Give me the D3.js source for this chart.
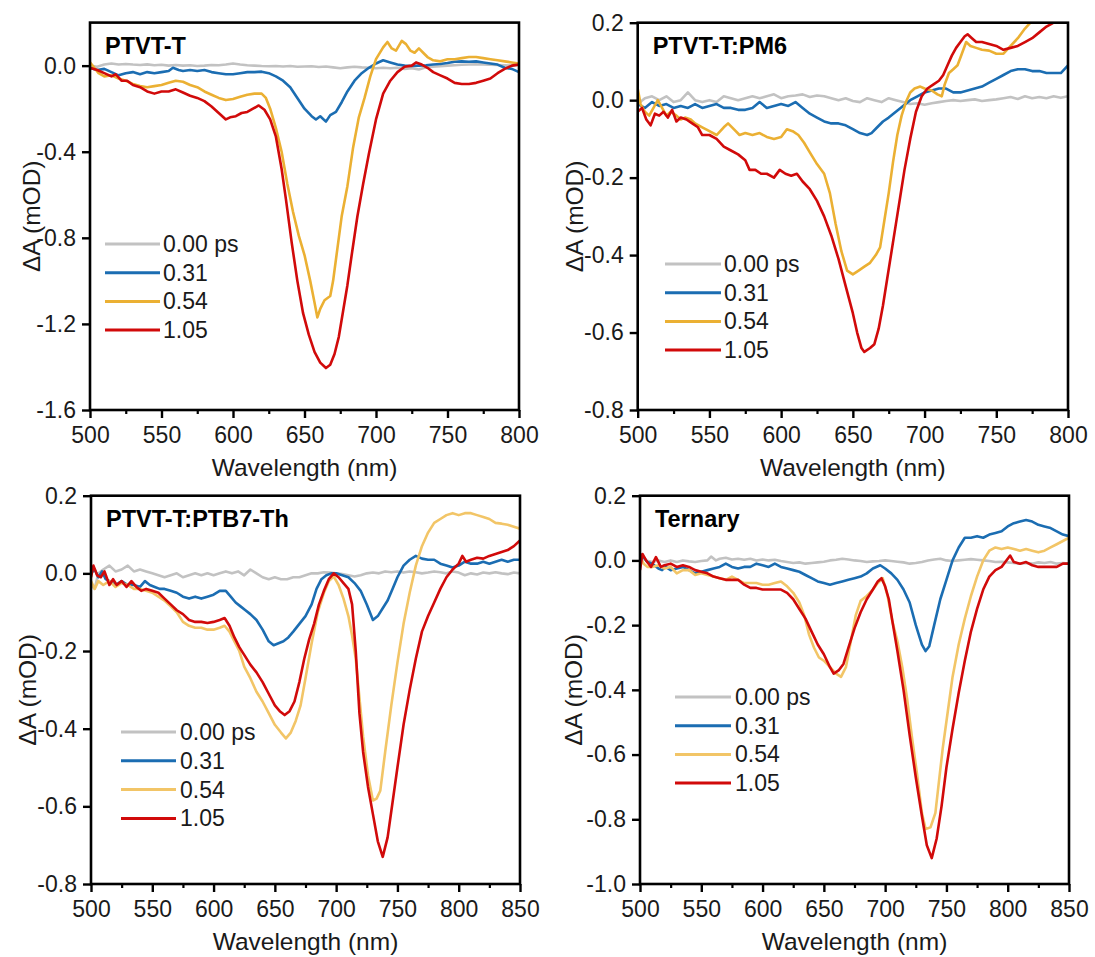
<!DOCTYPE html>
<html>
<head>
<meta charset="utf-8">
<script src="https://cdn.jsdelivr.net/npm/d3@7"></script>
<style>
  body { margin: 0; background: #fff; }
  svg { display: block; font-family: Arial, "Liberation Sans", sans-serif; }
</style>
</head>
<body>
<div id="chart"></div>
<script>
// delay times shown in every legend
const legendLabels = ['0.00 ps', '0.31', '0.54', '1.05'];

// --- PTVT-T ---
const p1_000 = [[500,0.0],[505,-0.005],[510,0.005],[515,0.01],[520,0.005],[525,0.008],[530,0.005],[535,0.003],[540,0.006],[545,0.002],[550,0.004],[555,0.0],[560,0.003],[565,0.0],[570,0.002],[575,-0.002],[580,0.0],[585,0.003],[590,0.002],[595,0.005],[600,0.01],[605,0.005],[610,0.002],[615,0.0],[620,-0.002],[625,-0.003],[630,-0.002],[635,-0.004],[640,-0.002],[645,-0.005],[650,-0.004],[655,-0.003],[660,-0.006],[665,-0.004],[670,-0.008],[675,-0.012],[680,-0.008],[685,-0.005],[690,-0.008],[695,-0.01],[700,-0.012],[705,-0.01],[710,-0.012],[715,-0.01],[720,-0.015],[725,-0.012],[730,-0.018],[735,-0.008],[740,-0.005],[745,-0.003],[750,0.0],[755,0.002],[760,0.004],[765,0.005],[770,0.006],[775,0.005],[780,0.004],[785,0.003],[790,0.002],[795,0.0],[800,0.005]];
const p1_031 = [[500,-0.01],[505,-0.02],[510,-0.015],[515,-0.03],[520,-0.045],[525,-0.035],[530,-0.03],[535,-0.04],[540,-0.03],[545,-0.035],[550,-0.03],[555,-0.025],[558,-0.01],[562,-0.02],[565,-0.025],[570,-0.02],[575,-0.025],[580,-0.02],[585,-0.03],[590,-0.035],[595,-0.04],[600,-0.04],[605,-0.035],[610,-0.03],[615,-0.03],[620,-0.028],[625,-0.035],[630,-0.05],[635,-0.07],[640,-0.10],[645,-0.15],[650,-0.2],[655,-0.235],[658,-0.25],[661,-0.235],[665,-0.26],[668,-0.23],[672,-0.215],[676,-0.17],[680,-0.12],[685,-0.07],[690,-0.035],[695,-0.01],[700,0.01],[705,0.025],[710,0.015],[715,0.005],[720,0.0],[725,-0.002],[730,0.0],[735,0.002],[740,0.005],[745,0.008],[750,0.012],[755,0.018],[760,0.02],[765,0.018],[770,0.02],[775,0.015],[780,0.01],[785,0.005],[790,-0.01],[795,-0.015],[800,-0.03]];
const p1_054 = [[500,0.015],[503,-0.01],[506,-0.035],[510,-0.05],[515,-0.045],[520,-0.06],[525,-0.07],[530,-0.085],[535,-0.095],[540,-0.1],[545,-0.095],[550,-0.09],[555,-0.08],[560,-0.07],[565,-0.075],[570,-0.09],[575,-0.1],[580,-0.12],[585,-0.135],[590,-0.15],[595,-0.16],[600,-0.155],[605,-0.145],[610,-0.135],[615,-0.13],[620,-0.13],[623,-0.15],[626,-0.2],[630,-0.29],[634,-0.4],[638,-0.55],[642,-0.68],[646,-0.79],[650,-0.88],[654,-1.0],[657,-1.1],[659,-1.17],[661,-1.13],[664,-1.09],[668,-1.07],[670,-1.0],[673,-0.85],[676,-0.7],[680,-0.56],[684,-0.38],[688,-0.24],[692,-0.15],[696,-0.05],[700,0.03],[705,0.085],[708,0.11],[711,0.08],[714,0.07],[718,0.115],[721,0.1],[724,0.07],[727,0.06],[730,0.08],[733,0.06],[736,0.04],[740,0.025],[745,0.02],[750,0.03],[755,0.03],[760,0.035],[765,0.04],[770,0.04],[775,0.035],[780,0.03],[785,0.025],[790,0.02],[795,0.015],[800,0.01]];
const p1_105 = [[500,-0.01],[505,-0.02],[510,-0.035],[515,-0.05],[518,-0.04],[522,-0.07],[526,-0.07],[530,-0.09],[535,-0.1],[540,-0.12],[545,-0.13],[550,-0.12],[555,-0.12],[560,-0.11],[565,-0.125],[570,-0.14],[575,-0.15],[580,-0.165],[585,-0.19],[590,-0.22],[595,-0.25],[598,-0.24],[602,-0.235],[606,-0.22],[610,-0.215],[614,-0.2],[618,-0.185],[622,-0.205],[626,-0.25],[630,-0.33],[634,-0.48],[637,-0.62],[641,-0.82],[645,-1.0],[649,-1.15],[653,-1.25],[657,-1.33],[661,-1.38],[665,-1.405],[668,-1.39],[671,-1.34],[674,-1.26],[677,-1.14],[680,-1.02],[683,-0.88],[687,-0.7],[691,-0.55],[695,-0.41],[700,-0.25],[705,-0.13],[710,-0.07],[715,-0.03],[720,-0.005],[725,0.0],[728,0.015],[732,0.005],[736,-0.01],[740,-0.03],[745,-0.045],[750,-0.06],[755,-0.08],[760,-0.085],[765,-0.085],[770,-0.08],[775,-0.07],[780,-0.06],[785,-0.035],[790,-0.015],[795,0.0],[800,0.005]];

// --- PTVT-T:PM6 ---
const p2_000 = [[500,-0.01],[505,0.005],[510,0.01],[515,0.0],[520,0.01],[525,-0.005],[530,0.0],[535,0.02],[540,0.0],[545,-0.005],[550,0.0],[555,-0.005],[560,0.01],[565,0.005],[570,0.0],[575,0.005],[580,0.01],[585,0.005],[590,0.01],[595,0.015],[600,0.005],[605,0.01],[610,0.012],[615,0.015],[620,0.008],[625,0.012],[630,0.01],[635,0.005],[640,0.0],[645,0.005],[650,-0.002],[655,-0.005],[660,0.005],[665,0.0],[670,-0.005],[675,0.005],[680,0.0],[685,-0.005],[690,-0.01],[695,-0.008],[700,-0.012],[705,-0.008],[710,-0.005],[715,-0.002],[720,0.0],[725,-0.002],[730,0.0],[735,0.002],[740,-0.002],[745,0.0],[750,0.002],[755,0.005],[760,0.008],[765,0.003],[770,0.01],[775,0.005],[780,0.008],[785,0.005],[790,0.01],[795,0.006],[800,0.01]];
const p2_031 = [[500,-0.01],[505,-0.02],[510,-0.005],[515,-0.015],[520,-0.01],[525,-0.02],[530,-0.015],[535,-0.02],[540,-0.01],[545,-0.02],[550,-0.015],[555,-0.01],[560,-0.02],[565,-0.02],[570,-0.025],[575,-0.025],[580,-0.02],[585,-0.005],[590,-0.02],[595,-0.015],[600,-0.01],[605,-0.015],[610,-0.005],[615,-0.02],[620,-0.035],[625,-0.045],[630,-0.055],[635,-0.06],[640,-0.06],[645,-0.065],[650,-0.075],[655,-0.085],[660,-0.09],[663,-0.085],[667,-0.07],[671,-0.055],[675,-0.045],[680,-0.03],[685,-0.015],[690,0.0],[695,0.01],[700,0.02],[705,0.025],[710,0.03],[715,0.03],[720,0.02],[725,0.02],[730,0.025],[735,0.03],[740,0.035],[745,0.045],[750,0.055],[755,0.065],[760,0.075],[765,0.08],[770,0.08],[775,0.075],[780,0.075],[785,0.07],[790,0.07],[795,0.07],[800,0.09]];
const p2_054 = [[500,0.03],[502,-0.01],[505,-0.03],[508,-0.04],[511,-0.02],[514,0.0],[517,-0.02],[520,-0.04],[523,-0.03],[527,-0.04],[530,-0.05],[533,-0.045],[537,-0.05],[540,-0.06],[545,-0.07],[550,-0.08],[555,-0.09],[560,-0.07],[563,-0.06],[567,-0.075],[571,-0.09],[575,-0.085],[580,-0.09],[585,-0.085],[590,-0.095],[595,-0.1],[600,-0.095],[604,-0.075],[608,-0.08],[612,-0.09],[616,-0.11],[620,-0.135],[625,-0.165],[630,-0.19],[634,-0.24],[638,-0.32],[642,-0.39],[646,-0.44],[650,-0.45],[654,-0.44],[658,-0.43],[662,-0.42],[666,-0.4],[669,-0.38],[672,-0.31],[675,-0.24],[678,-0.16],[681,-0.09],[684,-0.04],[687,-0.005],[690,0.02],[693,0.03],[697,0.035],[700,0.03],[705,0.025],[709,0.015],[712,0.01],[714,0.04],[717,0.07],[720,0.08],[723,0.09],[726,0.12],[729,0.15],[732,0.14],[736,0.135],[740,0.13],[745,0.128],[750,0.12],[755,0.12],[760,0.14],[765,0.16],[770,0.185],[775,0.205],[780,0.22],[790,0.25],[800,0.28]];
const p2_105 = [[500,-0.03],[503,-0.02],[506,-0.05],[509,-0.065],[512,-0.035],[515,-0.04],[518,-0.03],[521,-0.045],[524,-0.025],[527,-0.055],[530,-0.045],[534,-0.05],[538,-0.06],[542,-0.07],[545,-0.09],[550,-0.09],[555,-0.1],[560,-0.12],[565,-0.13],[570,-0.14],[575,-0.155],[578,-0.18],[582,-0.18],[586,-0.19],[590,-0.19],[595,-0.2],[599,-0.18],[603,-0.19],[607,-0.195],[611,-0.19],[615,-0.21],[620,-0.23],[625,-0.26],[630,-0.3],[635,-0.35],[640,-0.41],[645,-0.48],[650,-0.55],[653,-0.6],[656,-0.64],[658,-0.65],[662,-0.64],[665,-0.63],[668,-0.59],[671,-0.53],[674,-0.46],[677,-0.39],[680,-0.32],[683,-0.25],[686,-0.18],[690,-0.1],[694,-0.03],[698,0.01],[702,0.03],[706,0.04],[710,0.05],[713,0.065],[716,0.09],[719,0.115],[722,0.135],[725,0.15],[728,0.165],[730,0.17],[733,0.16],[736,0.15],[740,0.15],[745,0.145],[750,0.14],[755,0.13],[760,0.135],[765,0.14],[770,0.15],[775,0.16],[780,0.175],[785,0.19],[790,0.2],[795,0.21],[800,0.22]];

// --- PTVT-T:PTB7-Th ---
const p3_000 = [[500,-0.03],[503,-0.04],[506,0.0],[510,0.01],[515,0.02],[520,0.005],[525,0.01],[530,0.02],[535,0.005],[540,0.01],[545,0.005],[550,0.0],[555,-0.005],[560,-0.01],[565,-0.005],[570,0.0],[575,-0.01],[580,-0.005],[585,0.0],[590,-0.005],[595,0.0],[600,-0.005],[605,0.0],[610,0.005],[615,0.0],[620,0.005],[625,-0.005],[630,0.01],[635,0.0],[640,-0.01],[645,-0.015],[650,-0.01],[655,-0.015],[660,-0.015],[665,-0.01],[670,-0.01],[675,-0.005],[680,0.0],[685,0.0],[690,0.003],[695,0.002],[700,0.0],[705,-0.002],[710,-0.005],[715,-0.008],[720,-0.005],[725,0.0],[730,0.002],[735,0.0],[740,0.005],[745,0.003],[750,0.005],[755,0.002],[760,0.005],[765,0.003],[770,0.0],[775,0.002],[780,0.005],[785,0.003],[790,0.0],[795,0.005],[800,0.002],[805,-0.005],[810,0.0],[815,-0.003],[820,0.002],[825,0.0],[830,0.003],[835,0.0],[840,-0.002],[845,0.002],[850,0.0]];
const p3_031 = [[500,0.0],[503,0.01],[506,-0.01],[509,0.005],[512,-0.015],[515,-0.02],[520,-0.03],[525,-0.02],[530,-0.03],[535,-0.03],[540,-0.035],[544,-0.02],[548,-0.03],[552,-0.035],[556,-0.04],[560,-0.04],[565,-0.045],[570,-0.05],[575,-0.06],[580,-0.065],[585,-0.06],[590,-0.065],[595,-0.06],[600,-0.055],[605,-0.045],[610,-0.045],[614,-0.06],[618,-0.075],[622,-0.085],[626,-0.095],[630,-0.105],[635,-0.12],[640,-0.145],[645,-0.175],[649,-0.185],[653,-0.18],[657,-0.175],[661,-0.165],[665,-0.15],[670,-0.13],[675,-0.11],[680,-0.08],[684,-0.04],[688,-0.015],[692,-0.005],[696,0.0],[700,0.0],[705,-0.005],[710,-0.01],[715,-0.025],[720,-0.045],[725,-0.08],[730,-0.12],[734,-0.11],[738,-0.09],[742,-0.07],[746,-0.04],[750,-0.01],[755,0.02],[760,0.035],[765,0.045],[770,0.038],[775,0.035],[780,0.035],[785,0.025],[790,0.02],[795,0.015],[800,0.02],[805,0.03],[810,0.025],[815,0.025],[820,0.03],[825,0.025],[830,0.03],[835,0.035],[840,0.03],[845,0.035],[850,0.035]];
const p3_054 = [[500,-0.02],[503,-0.04],[506,-0.02],[510,-0.03],[515,-0.02],[520,-0.035],[525,-0.025],[530,-0.03],[535,-0.04],[540,-0.04],[545,-0.045],[550,-0.05],[555,-0.06],[560,-0.07],[565,-0.085],[570,-0.1],[575,-0.125],[580,-0.135],[585,-0.14],[590,-0.14],[595,-0.145],[600,-0.145],[605,-0.14],[609,-0.135],[613,-0.15],[617,-0.175],[621,-0.2],[625,-0.24],[630,-0.27],[635,-0.305],[640,-0.33],[645,-0.36],[650,-0.39],[655,-0.41],[659,-0.425],[663,-0.41],[667,-0.38],[671,-0.34],[675,-0.27],[680,-0.18],[685,-0.1],[690,-0.05],[694,-0.02],[698,-0.008],[702,-0.03],[706,-0.065],[710,-0.11],[713,-0.16],[716,-0.22],[719,-0.32],[722,-0.42],[726,-0.52],[730,-0.585],[733,-0.58],[736,-0.56],[740,-0.46],[745,-0.34],[750,-0.23],[755,-0.13],[760,-0.05],[765,0.02],[770,0.07],[775,0.105],[780,0.13],[785,0.14],[790,0.15],[795,0.155],[800,0.15],[805,0.155],[810,0.155],[815,0.15],[820,0.145],[825,0.14],[830,0.13],[835,0.128],[840,0.125],[845,0.12],[850,0.115]];
const p3_105 = [[500,-0.01],[502,0.02],[505,-0.005],[508,-0.01],[511,0.005],[515,-0.03],[518,-0.015],[521,-0.03],[525,-0.02],[529,-0.035],[533,-0.02],[537,-0.035],[541,-0.045],[545,-0.04],[550,-0.045],[555,-0.05],[560,-0.065],[565,-0.08],[570,-0.095],[575,-0.105],[580,-0.12],[585,-0.125],[590,-0.125],[595,-0.128],[600,-0.125],[605,-0.12],[609,-0.115],[613,-0.135],[617,-0.165],[621,-0.19],[625,-0.21],[630,-0.235],[635,-0.255],[640,-0.28],[645,-0.31],[650,-0.34],[654,-0.355],[658,-0.365],[662,-0.355],[666,-0.33],[670,-0.28],[674,-0.22],[678,-0.17],[682,-0.13],[686,-0.08],[690,-0.045],[694,-0.015],[698,0.0],[702,-0.01],[706,-0.025],[710,-0.04],[713,-0.08],[716,-0.2],[719,-0.36],[722,-0.46],[726,-0.55],[730,-0.62],[734,-0.69],[738,-0.73],[742,-0.68],[746,-0.59],[750,-0.5],[755,-0.39],[760,-0.3],[765,-0.22],[770,-0.15],[775,-0.11],[780,-0.075],[785,-0.04],[790,-0.01],[795,0.01],[800,0.025],[803,0.045],[806,0.03],[810,0.035],[815,0.04],[820,0.038],[825,0.045],[830,0.05],[835,0.055],[840,0.06],[845,0.07],[850,0.085]];

// --- Ternary ---
const p4_000 = [[500,0.01],[505,0.0],[510,-0.005],[515,0.0],[520,-0.005],[525,0.0],[530,-0.005],[535,0.0],[540,-0.003],[545,-0.005],[550,-0.002],[555,0.0],[558,0.012],[562,0.0],[565,0.005],[570,0.008],[575,0.003],[580,0.005],[585,0.002],[590,0.005],[595,0.0],[600,0.003],[605,0.0],[610,0.002],[615,-0.002],[620,-0.005],[625,-0.008],[630,-0.006],[635,-0.01],[640,-0.008],[645,-0.006],[650,-0.004],[655,0.0],[660,0.002],[665,0.005],[670,0.003],[675,0.0],[680,-0.002],[685,-0.005],[690,-0.003],[695,-0.002],[700,0.0],[705,-0.002],[710,-0.004],[715,-0.006],[720,-0.01],[725,-0.008],[730,-0.005],[735,0.0],[740,0.003],[745,0.005],[750,0.0],[755,-0.002],[760,0.0],[765,0.002],[770,0.004],[775,0.002],[780,0.0],[785,-0.002],[790,-0.005],[795,-0.004],[800,-0.006],[805,-0.008],[810,-0.01],[815,-0.008],[820,-0.01],[825,-0.006],[830,-0.008],[835,-0.005],[840,-0.01],[845,-0.008],[850,-0.01]];
const p4_031 = [[500,0.02],[503,0.01],[506,-0.005],[510,-0.01],[515,-0.025],[518,-0.03],[521,-0.02],[525,-0.03],[530,-0.025],[535,-0.02],[540,-0.03],[545,-0.04],[550,-0.035],[555,-0.03],[560,-0.025],[565,-0.02],[570,-0.01],[575,-0.02],[580,-0.025],[585,-0.02],[590,-0.02],[595,-0.01],[600,-0.015],[605,-0.02],[610,-0.01],[615,-0.02],[620,-0.025],[625,-0.03],[630,-0.035],[635,-0.045],[640,-0.055],[645,-0.065],[650,-0.07],[655,-0.075],[660,-0.07],[665,-0.065],[670,-0.06],[675,-0.055],[680,-0.05],[685,-0.04],[690,-0.025],[696,-0.015],[700,-0.025],[705,-0.04],[710,-0.06],[715,-0.09],[720,-0.13],[725,-0.2],[730,-0.26],[733,-0.28],[736,-0.265],[740,-0.2],[745,-0.12],[750,-0.06],[755,0.0],[760,0.04],[765,0.07],[770,0.07],[775,0.075],[780,0.07],[785,0.08],[790,0.085],[795,0.09],[800,0.105],[805,0.115],[810,0.12],[815,0.125],[820,0.12],[825,0.11],[830,0.105],[835,0.1],[840,0.09],[845,0.08],[850,0.075]];
const p4_054 = [[500,0.01],[503,-0.01],[506,-0.02],[510,-0.02],[515,-0.015],[520,-0.025],[525,-0.02],[530,-0.04],[535,-0.03],[540,-0.03],[545,-0.045],[550,-0.04],[555,-0.045],[560,-0.05],[565,-0.055],[570,-0.06],[575,-0.05],[580,-0.06],[585,-0.07],[590,-0.07],[595,-0.07],[600,-0.075],[605,-0.075],[610,-0.07],[615,-0.065],[620,-0.08],[625,-0.1],[630,-0.13],[634,-0.17],[638,-0.23],[642,-0.27],[646,-0.3],[650,-0.31],[655,-0.33],[660,-0.35],[664,-0.36],[668,-0.33],[672,-0.25],[676,-0.17],[680,-0.125],[685,-0.11],[690,-0.09],[694,-0.07],[698,-0.055],[702,-0.11],[706,-0.19],[710,-0.25],[714,-0.33],[718,-0.43],[722,-0.55],[726,-0.66],[730,-0.78],[733,-0.83],[737,-0.825],[741,-0.78],[744,-0.68],[747,-0.58],[751,-0.47],[755,-0.36],[760,-0.26],[765,-0.18],[770,-0.11],[775,-0.05],[780,0.0],[785,0.03],[790,0.04],[795,0.035],[800,0.04],[805,0.035],[810,0.03],[815,0.035],[820,0.03],[825,0.025],[830,0.03],[835,0.04],[840,0.05],[845,0.06],[850,0.07]];
const p4_105 = [[500,-0.03],[502,0.02],[505,0.0],[509,-0.02],[513,0.01],[517,-0.02],[520,-0.015],[525,-0.01],[530,-0.02],[535,-0.015],[540,-0.02],[545,-0.03],[550,-0.035],[555,-0.04],[560,-0.05],[565,-0.055],[570,-0.06],[575,-0.06],[580,-0.06],[585,-0.075],[590,-0.085],[595,-0.085],[600,-0.09],[605,-0.09],[610,-0.09],[615,-0.09],[620,-0.1],[625,-0.12],[630,-0.15],[635,-0.18],[640,-0.22],[645,-0.26],[650,-0.29],[655,-0.33],[658,-0.35],[662,-0.34],[666,-0.32],[670,-0.27],[675,-0.21],[680,-0.16],[685,-0.12],[690,-0.09],[694,-0.065],[697,-0.055],[700,-0.08],[703,-0.12],[706,-0.19],[710,-0.28],[715,-0.4],[720,-0.54],[725,-0.67],[730,-0.79],[734,-0.88],[738,-0.92],[742,-0.86],[746,-0.76],[750,-0.64],[755,-0.52],[760,-0.41],[765,-0.31],[770,-0.22],[775,-0.15],[780,-0.09],[785,-0.05],[790,-0.03],[795,-0.02],[800,0.005],[802,0.015],[805,-0.005],[810,-0.01],[815,-0.005],[820,-0.015],[825,-0.02],[830,-0.02],[835,-0.02],[840,-0.02],[845,-0.01],[850,-0.01]];

// tick values
const xTicksShort = [500, 550, 600, 650, 700, 750, 800];
const xTicksLong = [500, 550, 600, 650, 700, 750, 800, 850];
const yTicks1 = [-1.6, -1.2, -0.8, -0.4, 0.0];
const yTicks2 = [-0.8, -0.6, -0.4, -0.2, 0.0, 0.2];
const yTicks4 = [-1.0, -0.8, -0.6, -0.4, -0.2, 0.0, 0.2];

const width = 1095;
const height = 957;

const gray = '#c2c2c2', blue = '#1b6db2', red = '#d10a0a';
const gold = '#ebb033', lightGold = '#f2c567';

const panels = [
    { title: 'PTVT-T', left: 90, right: 519, top: 22.6, bottom: 410,
      x: [500, 800], y: [-1.6, 0.2], xTicks: xTicksShort, yTicks: yTicks1,
      series: [p1_000, p1_031, p1_054, p1_105], colors: [gray, blue, gold, red],
      legend: { x1: 105, x2: 160, tx: 163, y: 244, dy: 28.7 }, yLabelX: 31 },
    { title: 'PTVT-T:PM6', left: 637.7, right: 1068, top: 22.7, bottom: 410,
      x: [500, 800], y: [-0.8, 0.2], xTicks: xTicksShort, yTicks: yTicks2,
      series: [p2_000, p2_031, p2_054, p2_105], colors: [gray, blue, gold, red],
      legend: { x1: 665, x2: 721, tx: 724, y: 264, dy: 28.7 }, yLabelX: 574 },
    { title: 'PTVT-T:PTB7-Th', left: 91, right: 520, top: 495.7, bottom: 884,
      x: [500, 850], y: [-0.8, 0.2], xTicks: xTicksLong, yTicks: yTicks2,
      series: [p3_000, p3_031, p3_054, p3_105], colors: [gray, blue, lightGold, red],
      legend: { x1: 121, x2: 176, tx: 180, y: 732, dy: 28.8 }, yLabelX: 27 },
    { title: 'Ternary', left: 640, right: 1069, top: 495.7, bottom: 884,
      x: [500, 850], y: [-1.0, 0.2], xTicks: xTicksLong, yTicks: yTicks4,
      series: [p4_000, p4_031, p4_054, p4_105], colors: [gray, blue, lightGold, red],
      legend: { x1: 675, x2: 731, tx: 735, y: 697, dy: 28.7 }, yLabelX: 573 }
];

const svg = d3.select('#chart')
    .append('svg')
    .attr('width', width)
    .attr('height', height);

panels.forEach((p, i) => {
    const x = d3.scaleLinear().domain(p.x).range([p.left, p.right]);
    const y = d3.scaleLinear().domain(p.y).range([p.bottom, p.top]);
    const g = svg.append('g');

    // clip so curves leaving the frame are cut at its edge
    const clipId = 'clip' + i;
    svg.append('clipPath').attr('id', clipId)
        .append('rect')
        .attr('x', p.left).attr('y', p.top)
        .attr('width', p.right - p.left).attr('height', p.bottom - p.top);

    const line = d3.line()
        .x(d => x(d[0]))
        .y(d => y(d[1]));

    g.append('g')
        .attr('clip-path', `url(#${clipId})`)
        .selectAll('path')
        .data(p.series)
        .enter().append('path')
        .attr('d', line)
        .attr('fill', 'none')
        .attr('stroke', (d, k) => p.colors[k])
        .attr('stroke-width', 2.6)
        .attr('stroke-linejoin', 'round');

    // minor x ticks halfway between majors
    const minor = p.xTicks.slice(0, -1).map(v => v + 25);
    g.append('g')
        .attr('transform', `translate(0,${p.bottom})`)
        .call(d3.axisBottom(x).tickValues(minor).tickSize(4).tickSizeOuter(0).tickFormat(''))
        .call(a => a.select('.domain').remove())
        .call(a => a.selectAll('line').attr('stroke', '#000').attr('stroke-width', 2.2));

    const xAxis = g.append('g')
        .attr('transform', `translate(0,${p.bottom})`)
        .call(d3.axisBottom(x).tickValues(p.xTicks).tickSize(8).tickSizeOuter(0).tickPadding(9).tickFormat(d3.format('d')));
    xAxis.select('.domain').remove();
    xAxis.selectAll('line').attr('stroke', '#000').attr('stroke-width', 2.4);
    xAxis.selectAll('text').attr('font-size', 23).attr('fill', '#1a1a1a');

    const yAxis = g.append('g')
        .attr('transform', `translate(${p.left},0)`)
        .call(d3.axisLeft(y).tickValues(p.yTicks).tickSize(8).tickSizeOuter(0).tickPadding(6).tickFormat(d => d.toFixed(1)));
    yAxis.select('.domain').remove();
    yAxis.selectAll('line').attr('stroke', '#000').attr('stroke-width', 2.4);
    yAxis.selectAll('text').attr('font-size', 23).attr('fill', '#1a1a1a');

    // frame
    g.append('rect')
        .attr('x', p.left).attr('y', p.top)
        .attr('width', p.right - p.left).attr('height', p.bottom - p.top)
        .attr('fill', 'none')
        .attr('stroke', '#000')
        .attr('stroke-width', 2.6);

    g.append('text')
        .attr('x', p.left + 15)
        .attr('y', p.top + 31)
        .attr('font-size', 23.5)
        .attr('font-weight', 'bold')
        .attr('fill', '#000')
        .text(p.title);

    g.append('text')
        .attr('x', (p.left + p.right) / 2)
        .attr('y', p.bottom + 66)
        .attr('text-anchor', 'middle')
        .attr('font-size', 24.5)
        .attr('fill', '#1a1a1a')
        .text('Wavelength (nm)');

    g.append('text')
        .attr('transform', `translate(${p.yLabelX},${(p.top + p.bottom) / 2}) rotate(-90)`)
        .attr('text-anchor', 'middle')
        .attr('dominant-baseline', 'central')
        .attr('font-size', 24.5)
        .attr('fill', '#1a1a1a')
        .text('ΔA (mOD)');

    // legend
    const lg = g.append('g');
    legendLabels.forEach((label, k) => {
        const ly = p.legend.y + k * p.legend.dy;
        lg.append('line')
            .attr('x1', p.legend.x1).attr('x2', p.legend.x2)
            .attr('y1', ly).attr('y2', ly)
            .attr('stroke', p.colors[k])
            .attr('stroke-width', 3);
        lg.append('text')
            .attr('x', p.legend.tx)
            .attr('y', ly + 8)
            .attr('font-size', 23)
            .attr('fill', '#1a1a1a')
            .text(label);
    });
});
</script>
</body>
</html>
